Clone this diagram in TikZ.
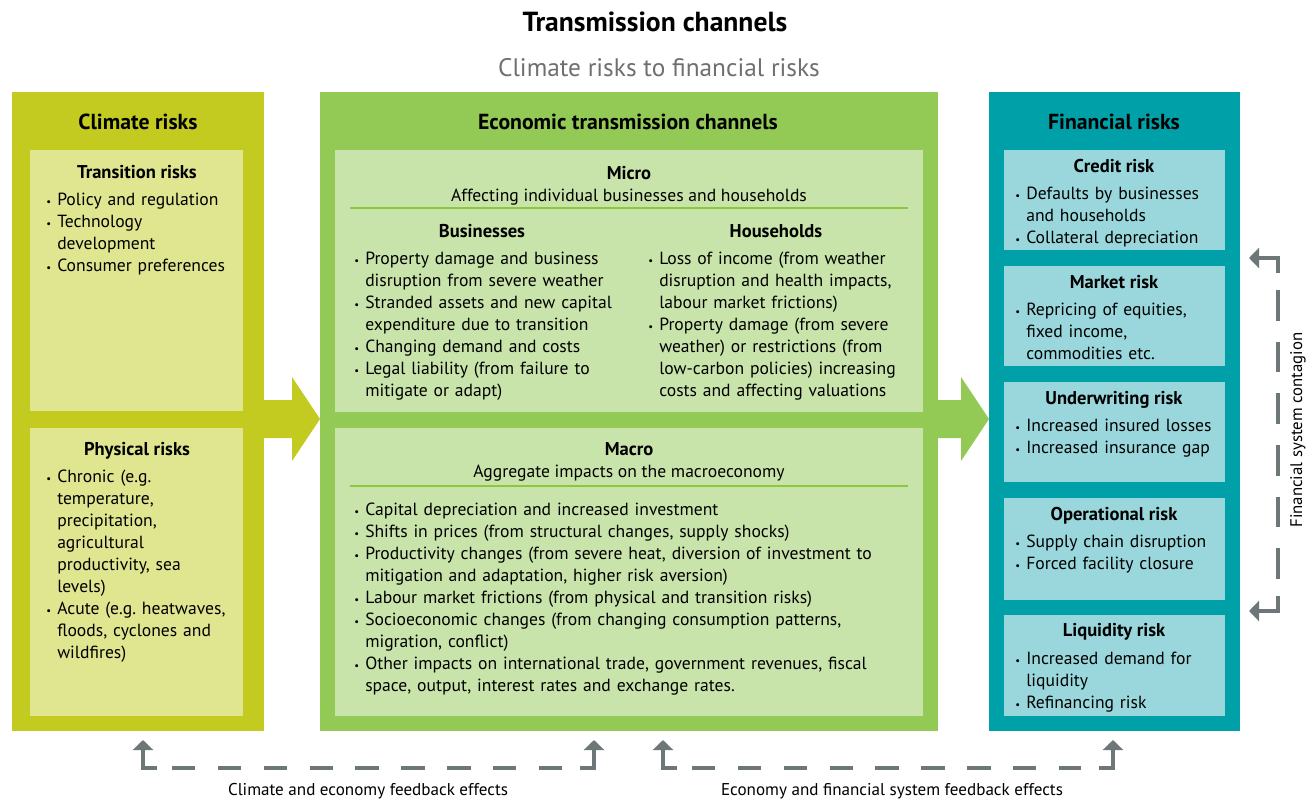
\documentclass[tikz,border=0pt]{standalone}
\usepackage{fontspec}
\setmainfont{PT Sans}
\usepackage{enumitem}
\usetikzlibrary{arrows.meta,fit,calc}

\definecolor{climdark}{HTML}{C3CB20}
\definecolor{climlight}{HTML}{E0E590}
\definecolor{econdark}{HTML}{93C955}
\definecolor{econlight}{HTML}{C9E4AA}
\definecolor{findark}{HTML}{00A0A8}
\definecolor{finlight}{HTML}{99D7DD}
\definecolor{fbgray}{HTML}{6E7777}
\definecolor{subgray}{HTML}{6F6F6F}
\definecolor{rulegreen}{HTML}{8DC63F}

\frenchspacing
\newcommand{\bodyfont}{\fontsize{13.2}{16.5}\selectfont}
\newenvironment{blist}{\begin{itemize}[label={\footnotesize\textbullet},leftmargin=9pt,labelsep=4.5pt,itemsep=0pt,topsep=0pt,parsep=0pt,partopsep=0pt]\raggedright}{\end{itemize}}

\begin{document}
\begin{tikzpicture}[x=0.75pt,y=-0.75pt,
  box/.style={inner sep=0pt,outer sep=0pt,draw=none},
  title/.style={anchor=base,inner sep=0pt,font=\fontsize{20.7}{22}\selectfont\bfseries},
  subttl/.style={anchor=base,inner sep=0pt,text=subgray,font=\fontsize{19}{21}\selectfont},
  head/.style={anchor=base,inner sep=0pt,font=\fontsize{16.3}{18}\selectfont\bfseries},
  subhead/.style={anchor=base,inner sep=0pt,font=\fontsize{13.9}{16}\selectfont\bfseries},
  plain/.style={anchor=base,inner sep=0pt,font=\bodyfont},
  items/.style={anchor=base west,inner sep=0pt,text width=#1,font=\bodyfont,yshift=16.5pt},
  fblabel/.style={anchor=base,inner sep=0pt,font=\fontsize{12.8}{14}\selectfont},
  sepline/.style={draw=rulegreen,line width=1.1pt},
  fbline/.style={draw=fbgray,line width=2.5pt},
  fbtip/.style={-{Triangle[width=15pt,length=7.5pt]}},
  fbdash/.style={dash pattern=on 17.5pt off 16.9pt},
  ctdash/.style={dash pattern=on 23pt off 15.75pt}]
\useasboundingbox (0,0) rectangle (1310,799);

% titles
\node[title] (ttl) at (655,32) {Transmission channels};
\node[subttl] (sub) at (659,77) {Climate risks to financial risks};

% outer panels
\node[box,fill=climdark,fit={(12,92) (264,731)}] (climate) {};
\node[box,fill=econdark,fit={(320,92) (938,731)}] (econ) {};
\node[box,fill=findark,fit={(989,92) (1240,731)}] (fin) {};

% block arrows between panels
\fill[climdark] (258,400) -- (292,400) -- (292,377) -- (320,419) -- (292,461) -- (292,438) -- (258,438) -- cycle;
\fill[econdark] (932,400) -- (961,400) -- (961,377) -- (989,419) -- (961,461) -- (961,438) -- (932,438) -- cycle;

% inner boxes
\node[box,fill=climlight,fit={(30,150) (243,411)}] (trans) {};
\node[box,fill=climlight,fit={(30,428) (243,716)}] (phys) {};
\node[box,fill=econlight,fit={(335,150) (923,412)}] (micro) {};
\node[box,fill=econlight,fit={(335,428) (923,716)}] (macro) {};
\node[box,fill=finlight,fit={(1004,150) (1225,250)}] (credit) {};
\node[box,fill=finlight,fit={(1004,266) (1225,366)}] (market) {};
\node[box,fill=finlight,fit={(1004,382) (1225,482)}] (uwrite) {};
\node[box,fill=finlight,fit={(1004,498) (1225,600)}] (oper) {};
\node[box,fill=finlight,fit={(1004,615) (1225,716)}] (liquid) {};

% panel headings
\node[head] (climhead) at (138,129) {Climate risks};
\node[head] (econhead) at (628,129) {Economic transmission channels};
\node[head] (finhead) at (1114,129) {Financial risks};

% climate risks
\node[subhead] (transhead) at (137,178) {Transition risks};
\node[items=150pt] (translist) at (45,205) {\begin{blist}
  \item Policy and regulation
  \item Technology\\development
  \item Consumer preferences
\end{blist}};
\node[subhead] (physhead) at (137,455) {Physical risks};
\node[items=150pt] (physlist) at (45,482) {\begin{blist}
  \item Chronic (e.g.\\temperature,\\precipitation,\\agricultural\\productivity, sea\\levels)
  \item Acute (e.g. heatwaves,\\floods, cyclones and\\wildfires)
\end{blist}};

% micro
\node[subhead] (microhead) at (629,179) {Micro};
\node[plain] (microsub) at (629,201) {Affecting individual businesses and households};
\draw[sepline] (350,208) -- (908,208);
\node[subhead] (bushead) at (482,237) {Businesses};
\node[subhead] (hhhead) at (776,237) {Households};
\node[items=230pt] (buslist) at (353,264) {\begin{blist}
  \item Property damage and business\\disruption from severe weather
  \item Stranded assets and new capital\\expenditure due to transition
  \item Changing demand and costs
  \item Legal liability (from failure to\\mitigate or adapt)
\end{blist}};
\node[items=230pt] (hhlist) at (647,264) {\begin{blist}
  \item Loss of income (from weather\\disruption and health impacts,\\labour market frictions)
  \item Property damage (from severe\\weather) or restrictions (from\\low-carbon policies) increasing\\costs and affecting valuations
\end{blist}};

% macro
\node[subhead] (macrohead) at (629,455) {Macro};
\node[plain] (macrosub) at (629,477) {Aggregate impacts on the macroeconomy};
\draw[sepline] (350,486) -- (908,486);
\node[items=430pt] (macrolist) at (353,515) {\begin{blist}
  \item Capital depreciation and increased investment
  \item Shifts in prices (from structural changes, supply shocks)
  \item Productivity changes (from severe heat, diversion of investment to\\mitigation and adaptation, higher risk aversion)
  \item Labour market frictions (from physical and transition risks)
  \item Socioeconomic changes (from changing consumption patterns,\\migration, conflict)
  \item Other impacts on international trade, government revenues, fiscal\\space, output, interest rates and exchange rates.
\end{blist}};

% financial risks
\node[subhead] (credhead) at (1114,172) {Credit risk};
\node[items=160pt] (credlist) at (1014,199) {\begin{blist}
  \item Defaults by businesses\\and households
  \item Collateral depreciation
\end{blist}};
\node[subhead] (markhead) at (1114,288) {Market risk};
\node[items=160pt] (marklist) at (1014,315) {\begin{blist}
  \item Repricing of equities,\\fixed income,\\commodities etc.
\end{blist}};
\node[subhead] (uwhead) at (1114,404) {Underwriting risk};
\node[items=160pt] (uwlist) at (1014,431) {\begin{blist}
  \item Increased insured losses
  \item Increased insurance gap
\end{blist}};
\node[subhead] (ophead) at (1114,520) {Operational risk};
\node[items=160pt] (oplist) at (1014,547) {\begin{blist}
  \item Supply chain disruption
  \item Forced facility closure
\end{blist}};
\node[subhead] (liqhead) at (1114,636) {Liquidity risk};
\node[items=160pt] (liqlist) at (1014,664) {\begin{blist}
  \item Increased demand for\\liquidity
  \item Refinancing risk
\end{blist}};

% financial system contagion
\coordinate (ctTop) at (1249,258);
\coordinate (ctTopC) at (1278,258);
\coordinate (ctBot) at (1249,611);
\coordinate (ctBotC) at (1278,611);
\draw[fbline,fbtip] ($(ctTopC)+(0,15)$) -- (ctTopC) -- (ctTop);
\draw[fbline,fbtip] ($(ctBotC)+(0,-15)$) -- (ctBotC) -- (ctBot);
\draw[fbline,ctdash] ($(ctTopC)+(0,32)$) -- ($(ctBotC)+(0,-32)$);
\node[rotate=90,inner sep=0pt,font=\fontsize{12.6}{14}\selectfont] (ctlabel) at (1298,430) {Financial system contagion};

% feedback effects
\coordinate (fbClim) at (143,740);
\coordinate (fbClimC) at (143,768);
\coordinate (fbEconA) at (594,740);
\coordinate (fbEconAC) at (594,768);
\coordinate (fbEconB) at (663,740);
\coordinate (fbEconBC) at (663,768);
\coordinate (fbFin) at (1113,740);
\coordinate (fbFinC) at (1113,768);
\draw[fbline,fbtip] ($(fbClimC)+(14,0)$) -- (fbClimC) -- (fbClim);
\draw[fbline,fbtip] ($(fbEconAC)+(-14,0)$) -- (fbEconAC) -- (fbEconA);
\draw[fbline,fbdash] ($(fbClimC)+(29,0)$) -- ($(fbEconAC)+(-32,0)$);
\draw[fbline,fbtip] ($(fbEconBC)+(14,0)$) -- (fbEconBC) -- (fbEconB);
\draw[fbline,fbtip] ($(fbFinC)+(-14,0)$) -- (fbFinC) -- (fbFin);
\draw[fbline,fbdash] ($(fbEconBC)+(29,0)$) -- ($(fbFinC)+(-32,0)$);
\node[fblabel] (fblabA) at (368,795) {Climate and economy feedback effects};
\node[fblabel] (fblabB) at (892,795) {Economy and financial system feedback effects};
\end{tikzpicture}
\end{document}
